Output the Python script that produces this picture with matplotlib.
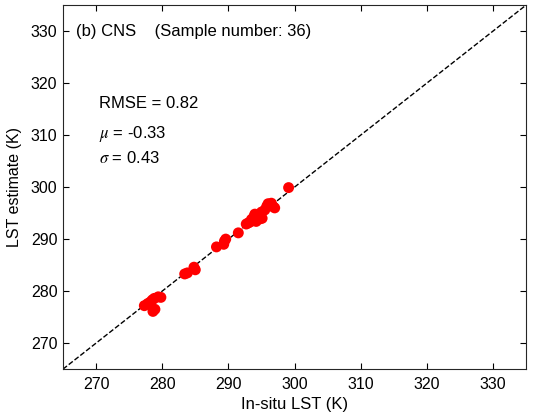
import matplotlib

matplotlib.use("Agg")
import matplotlib.pyplot as plt

plt.rcParams["font.family"] = ["Liberation Sans", "DejaVu Sans"]
plt.rcParams["mathtext.fontset"] = "stix"

# in-situ LST (K) vs LST estimate (K)
insitu = [277.3, 277.8, 278.2, 278.5, 278.8, 279.4, 279.8, 278.6, 278.9,
          283.4, 283.8, 284.8, 285.0,
          288.2, 289.3, 289.6, 289.4,
          291.5,
          292.7, 293.0, 293.3, 293.5, 293.9, 294.2, 294.5, 294.8, 295.1,
          295.0, 295.5, 295.8, 296.0, 296.5, 296.8, 297.0, 294.0,
          299.1]
estimate = [277.2, 277.6, 277.9, 278.3, 278.6, 278.9, 278.8, 276.1, 276.5,
            283.3, 283.5, 284.6, 284.1,
            288.5, 289.0, 290.0, 289.6,
            291.2,
            292.9, 293.1, 293.3, 293.8, 294.4, 293.4, 294.7, 293.9, 294.0,
            295.2, 295.6, 296.3, 296.8, 296.9, 296.2, 296.0, 294.8,
            299.9]

ticks = [270, 280, 290, 300, 310, 320, 330]
lims = (265, 335)

fig = plt.figure(figsize=(5.38, 4.19), dpi=100)
ax = fig.add_axes([0.117, 0.119, 0.861, 0.869])

ax.plot(lims, lims, "--", color="k", lw=1.0, zorder=1)
ax.scatter(insitu, estimate, s=62, color="red", edgecolors="none", zorder=2)

ax.set_xlim(lims)
ax.set_ylim(lims)
ax.set_xticks(ticks)
ax.set_yticks(ticks)
ax.tick_params(direction="in", top=True, right=True, length=4,
               labelsize=11.5, width=0.8, pad=4)
ax.tick_params(axis="x", pad=6)
for sp in ax.spines.values():
    sp.set_color("#262626")
ax.set_xlabel("In-situ LST (K)", fontsize=12, labelpad=3)
ax.set_ylabel("LST estimate (K)", fontsize=11.5, labelpad=6)

ax.text(266.9, 330, "(b) CNS    (Sample number: 36)", fontsize=12,
        va="center", ha="left")
ax.text(270.4, 316.1, "RMSE = 0.82", fontsize=12, va="center", ha="left")
ax.text(270.4, 310.2, r"$\mu$ = -0.33", fontsize=12, va="center", ha="left")
ax.text(270.4, 305.6, r"$\sigma$ = 0.43", fontsize=12, va="center", ha="left")

fig.savefig("out.png", dpi=100)
